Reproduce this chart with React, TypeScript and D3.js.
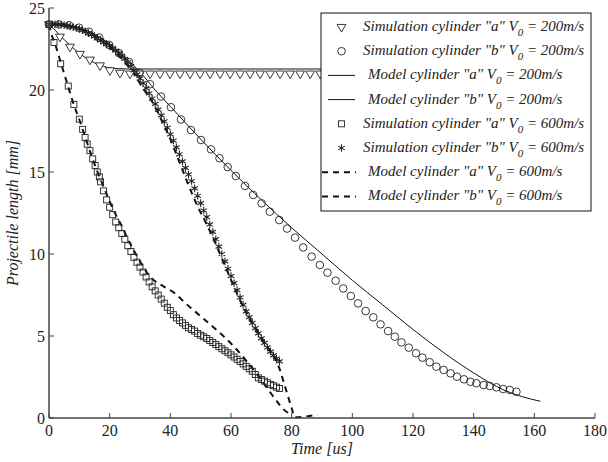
import React from "react";
import * as d3 from "d3";

// chart size, same as the reference picture
const width = 608;
const height = 462;
const margin = { top: 8, right: 13, bottom: 44, left: 49 };
const innerWidth = width - margin.left - margin.right;
const innerHeight = height - margin.top - margin.bottom;

const xTicks = [0, 20, 40, 60, 80, 100, 120, 140, 160, 180];
const yTicks = [0, 5, 10, 15, 20, 25];

// [time us, length mm]
const simA200: [number, number][] = [
  [0, 24], [3.6, 23.25], [6.9, 22.64], [10.2, 22.2], [13.5, 21.85], [16.8, 21.5],
  [20.1, 21.2], [23.4, 21.05], [26.7, 21.0], [30, 21.0], [33.3, 21.0], [36.6, 21.0],
  [39.9, 21.0], [43.2, 21.0], [46.5, 21.0], [49.8, 21.0], [53.1, 21.0], [56.4, 21.0],
  [59.7, 21.0], [63, 21.0], [66.3, 21.0], [69.6, 21.0], [72.9, 21.0], [76.2, 21.0],
  [79.5, 21.0], [82.8, 21.0], [86.1, 21.0], [89.4, 21.0],
];

const simB200: [number, number][] = [
  [0, 24.0], [3.3, 24.0], [6.6, 23.95], [9.9, 23.8], [13.2, 23.55], [16.5, 23.2],
  [19.8, 22.75], [23.1, 22.25], [26.4, 21.7], [29.8, 21.05], [33.3, 20.35], [36.9, 19.6],
  [40.2, 18.95], [43.5, 18.2], [46.8, 17.56], [50.1, 16.95], [53.4, 16.38], [56.2, 15.84],
  [58.9, 15.3], [61.6, 14.76], [64.6, 14.15], [67.3, 13.6], [70.1, 13.09], [72.8, 12.58],
  [75.9, 12.07], [78.5, 11.55], [81.1, 11.0], [83.8, 10.4], [86.6, 9.84], [89.3, 9.33],
  [91.8, 8.86], [94.5, 8.37], [97, 7.9], [99.5, 7.44], [101.9, 6.99], [104.4, 6.52],
  [106.9, 6.14], [109.3, 5.71], [111.8, 5.3], [114, 4.96], [116.2, 4.61], [118.6, 4.29],
  [121, 3.95], [123.1, 3.68], [125.5, 3.4], [127.7, 3.13], [130.1, 2.93], [132.4, 2.72],
  [134.5, 2.52], [136.8, 2.36], [138.9, 2.21], [140.9, 2.12], [143.3, 2.01], [145.3, 1.95],
  [147.5, 1.87], [149.7, 1.77], [151.9, 1.71], [154.1, 1.6],
];

const modelA200: [number, number][] = [
  [0, 24], [2, 23.65], [4, 23.25], [6, 22.9], [8, 22.55], [10, 22.25], [12, 21.97],
  [14, 21.75], [16, 21.57], [18, 21.44], [20, 21.35], [23, 21.3], [26, 21.28], [95, 21.28],
];

const modelB200: [number, number][] = [
  [0, 24], [5, 23.98], [10, 23.8], [15, 23.4], [20, 22.8], [25, 22.0], [30, 21.1],
  [35, 20.0], [40, 19.0], [50, 17.0], [60, 15.1], [70, 13.3], [80, 11.6], [90, 10.0],
  [100, 8.4], [110, 6.9], [120, 5.4], [130, 4.0], [140, 2.75], [150, 1.7], [156, 1.3],
  [162, 1.02],
];

const simA600: [number, number][] = [
  [0, 24], [1.65, 22.9], [3.85, 21.6], [6.35, 20.24], [8.2, 19.12], [10, 18.22],
  [11.1, 17.6], [11.9, 17.1], [12.6, 16.7], [13.5, 16.3], [14.4, 15.8], [15.2, 15.4],
  [15.9, 15.0], [16.6, 14.7], [17, 14.4], [18, 13.85], [19, 13.3], [20, 12.85],
  [21, 12.4], [22, 11.95], [23, 11.6], [24, 11.25], [25, 10.9], [26, 10.5], [27, 10.15],
  [28, 9.8], [29, 9.5], [30, 9.2], [31, 8.9], [32, 8.6], [33, 8.3], [34, 8.0], [35, 7.75],
  [36, 7.5], [37, 7.25], [38, 7.0], [39, 6.75], [40, 6.55], [41, 6.3], [42, 6.1],
  [43, 5.95], [44, 5.8], [45, 5.65], [46, 5.5], [47, 5.4], [48, 5.3], [49, 5.15],
  [50, 5.05], [51, 4.95], [52, 4.85], [53, 4.72], [54, 4.6], [55, 4.48], [56, 4.35],
  [57, 4.22], [58, 4.1], [59, 3.98], [60, 3.85], [61, 3.72], [62, 3.58], [63, 3.45],
  [64, 3.3], [65, 3.15], [66, 3.0], [67, 2.85], [68, 2.65], [69, 2.45], [70, 2.35],
  [71, 2.25], [72, 2.15], [73, 2.05], [74, 1.97], [75, 1.88], [76, 1.8],
];

const simB600: [number, number][] = [
  [0, 24.0], [1, 24.0], [2, 24.0], [3, 24.0], [4, 23.98], [5, 23.95], [6, 23.92],
  [7, 23.88], [8, 23.83], [9, 23.78], [10, 23.72], [11, 23.64], [12, 23.56], [13, 23.47],
  [14, 23.37], [15, 23.27], [16, 23.15], [17, 23.03], [18, 22.9], [19, 22.8], [20, 22.7],
  [21, 22.55], [22, 22.4], [23, 22.25], [24, 22.08], [25, 21.9], [26, 21.68], [27, 21.45],
  [28, 21.2], [29, 20.95], [30, 20.7], [31, 20.42], [32, 20.12], [33, 19.8], [34, 19.48],
  [35, 19.15], [36, 18.8], [37, 18.45], [38, 18.08], [39, 17.7], [40, 17.3], [41, 16.92],
  [42, 16.5], [43, 16.08], [44, 15.65], [45, 15.25], [46, 14.85], [47, 14.45], [48, 14.0],
  [49, 13.55], [50, 13.1], [51, 12.65], [52, 12.25], [53, 11.8], [54, 11.35], [55, 10.9],
  [56, 10.45], [57, 10.0], [58, 9.55], [59, 9.1], [60, 8.65], [61, 8.22], [62, 7.8],
  [63, 7.35], [64, 6.9], [65, 6.5], [66, 6.15], [67, 5.8], [68, 5.48], [69, 5.16],
  [70, 4.86], [71, 4.58], [72, 4.3], [73, 4.05], [74, 3.82], [75, 3.62], [76, 3.45],
];

const modelA600: [number, number][] = [
  [0, 24], [1, 23.3], [2, 22.8], [4, 21.6], [6, 20.4], [8, 19.2], [10, 18.2], [12, 17.1],
  [14, 16.0], [16, 15.0], [18, 14.1], [20, 13.2], [22, 12.4], [24, 11.7], [26, 10.9],
  [28, 10.2], [30, 9.55], [32, 8.95], [34, 8.5], [38, 8.0], [41.5, 7.6], [45, 7.0],
  [50, 6.2], [54, 5.57], [61, 4.35], [65, 3.5], [68.4, 2.72], [72, 1.8], [74, 1.3],
  [78.3, 0.38], [80, 0.25],
];

const modelB600: [number, number][] = [
  [0, 24], [5, 23.95], [10, 23.75], [15, 23.3], [20, 22.6], [25, 21.7], [28, 21.0],
  [31, 20.1], [34, 19.3], [37, 18.2], [40, 17.0], [43, 15.6], [46, 14.2], [49, 12.9],
  [52, 11.8], [55, 10.6], [58, 9.3], [61, 8.0], [64, 6.8], [67, 5.8], [70, 4.9],
  [73, 4.05], [75.6, 3.2], [78, 1.8], [80, 0.6], [81, 0.05], [88.5, 0.2],
];

const legendLabels = [
  { name: "Simulation cylinder \"a\" V", speed: " = 200m/s", kind: "triangle" },
  { name: "Simulation cylinder \"b\" V", speed: " = 200m/s", kind: "circle" },
  { name: "Model cylinder \"a\" V", speed: " = 200m/s", kind: "solid" },
  { name: "Model cylinder \"b\" V", speed: " = 200m/s", kind: "solid" },
  { name: "Simulation cylinder \"a\" V", speed: " = 600m/s", kind: "square" },
  { name: "Simulation cylinder \"b\" V", speed: " = 600m/s", kind: "star" },
  { name: "Model cylinder \"a\" V", speed: " = 600m/s", kind: "dashed" },
  { name: "Model cylinder \"b\" V", speed: " = 600m/s", kind: "dashed" },
];

const font = "Liberation Serif, Times New Roman, serif";

const x = d3.scaleLinear().domain([0, 180]).range([0, innerWidth]);
const y = d3.scaleLinear().domain([0, 25]).range([innerHeight, 0]);

const line = d3
  .line<[number, number]>()
  .x((d) => x(d[0]))
  .y((d) => y(d[1]))
  .curve(d3.curveMonotoneX);

const triPath = d3.symbol().type(d3.symbolTriangle).size(34)();
const starPath = d3.symbol().type(d3.symbolAsterisk).size(40)();

function Marker({ kind, cx, cy }: { kind: string; cx: number; cy: number }) {
  if (kind === "triangle")
    return (
      <path d={triPath!} transform={`translate(${cx},${cy}) rotate(180)`}
        fill="white" stroke="#222" strokeWidth={0.9} />
    );
  if (kind === "circle")
    return <circle cx={cx} cy={cy} r={3.8} fill="none" stroke="#222" strokeWidth={0.9} />;
  if (kind === "square")
    return <rect x={cx - 3} y={cy - 3} width={6} height={6} fill="none" stroke="#222" strokeWidth={0.9} />;
  if (kind === "star")
    return <path d={starPath!} transform={`translate(${cx},${cy})`} fill="none" stroke="#222" strokeWidth={1.1} />;
  return null;
}

export default function App() {
  const lx = 321;
  const ly = 13;
  return (
    <svg width={width} height={height} style={{ position: "absolute", left: 0, top: 0, background: "white" }}>
      <g transform={`translate(${margin.left},${margin.top})`}>
        {/* model curves */}
        <path d={line(modelA200)!} fill="none" stroke="#111" strokeWidth={1} />
        <path d={line(modelB200)!} fill="none" stroke="#111" strokeWidth={1} />
        <path d={line(modelA600)!} fill="none" stroke="#111" strokeWidth={2} strokeDasharray="6,5" />
        <path d={line(modelB600)!} fill="none" stroke="#111" strokeWidth={2} strokeDasharray="6,5" />

        {/* simulation markers */}
        {simA200.map((d, i) => <Marker key={"ta" + i} kind="triangle" cx={x(d[0])} cy={y(d[1])} />)}
        {simB200.map((d, i) => <Marker key={"cb" + i} kind="circle" cx={x(d[0])} cy={y(d[1])} />)}
        {simA600.map((d, i) => <Marker key={"sa" + i} kind="square" cx={x(d[0])} cy={y(d[1])} />)}
        {simB600.map((d, i) => <Marker key={"sb" + i} kind="star" cx={x(d[0])} cy={y(d[1])} />)}

        {/* axes */}
        <line x1={0} x2={innerWidth} y1={innerHeight} y2={innerHeight} stroke="#444" strokeWidth={1.5} />
        <line x1={0} x2={0} y1={0} y2={innerHeight} stroke="#444" strokeWidth={1.5} />
        {xTicks.map((t) => (
          <g key={"x" + t} transform={`translate(${x(t)},${innerHeight})`}>
            <line y1={0} y2={-5} stroke="#444" />
            <text y={18} textAnchor="middle" fontFamily={font} fontSize={16} fill="#222">{t}</text>
          </g>
        ))}
        {yTicks.map((t) => (
          <g key={"y" + t} transform={`translate(0,${y(t)})`}>
            <line x1={0} x2={5} stroke="#444" />
            <text x={-4} dy="0.35em" textAnchor="end" fontFamily={font} fontSize={16} fill="#222">{t}</text>
          </g>
        ))}
        <text x={innerWidth / 2} y={innerHeight + 36} textAnchor="middle" fontFamily={font}
          fontStyle="italic" fontSize={16} fill="#222">Time [us]</text>
        <text transform={`translate(${-31},${innerHeight / 2}) rotate(-90)`} textAnchor="middle"
          fontFamily={font} fontStyle="italic" fontSize={16} fill="#222">Projectile length [mm]</text>
      </g>

      {/* legend */}
      <rect x={lx} y={ly} width={270} height={198} fill="white" stroke="#111" strokeWidth={1} />
      {legendLabels.map((l, i) => {
        const cy = ly + 14 + i * 24.2;
        const isLine = l.kind === "solid" || l.kind === "dashed";
        const tx = isLine ? 368 : 363;
        return (
          <g key={"l" + i}>
            {l.kind === "solid" && <line x1={328} x2={355} y1={cy} y2={cy} stroke="#111" strokeWidth={1} />}
            {l.kind === "dashed" && (
              <line x1={322} x2={356} y1={cy} y2={cy} stroke="#111" strokeWidth={2} strokeDasharray="6,5" />
            )}
            {!isLine && <Marker kind={l.kind} cx={341.5} cy={cy} />}
            <text x={tx} y={cy + 4} fontFamily={font} fontStyle="italic" fontSize={15} fill="#222">
              <tspan>{l.name}</tspan>
              <tspan dy={5} fontSize={11}>0</tspan>
              <tspan dy={-5}>{l.speed}</tspan>
            </text>
          </g>
        );
      })}
    </svg>
  );
}
